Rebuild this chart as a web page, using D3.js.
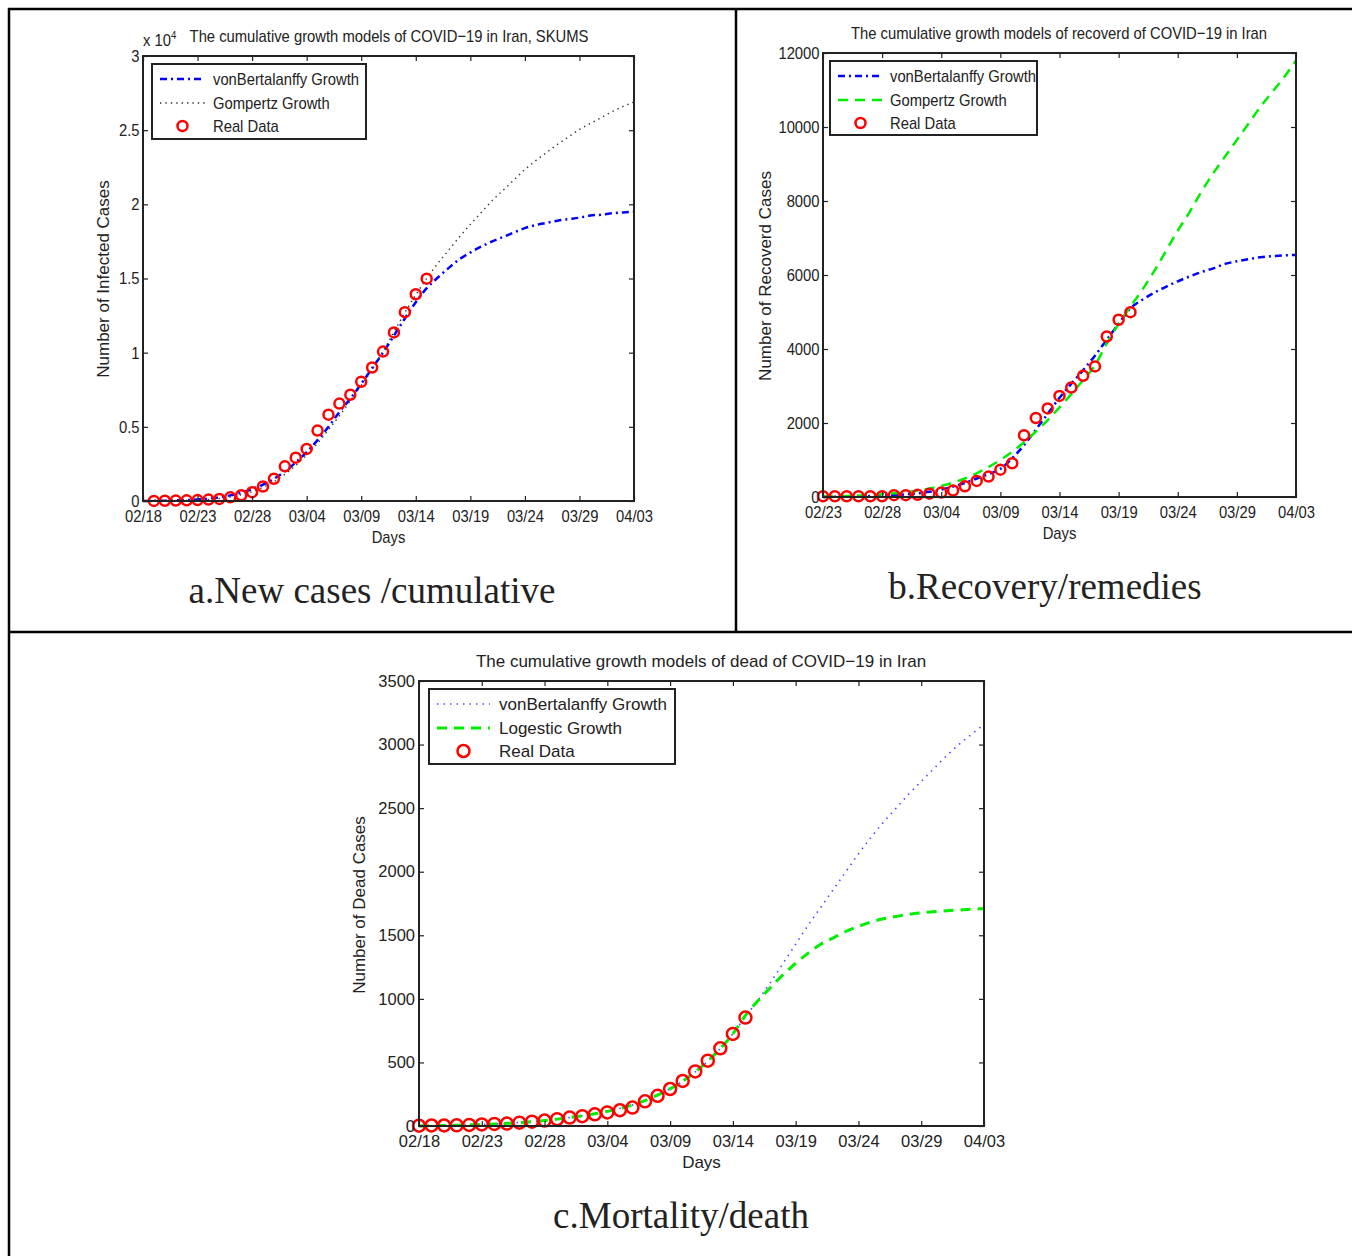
<!DOCTYPE html>
<html>
<head>
<meta charset="utf-8">
<script src="https://cdn.jsdelivr.net/npm/d3@7"></script>
<style>
  body { margin: 0; background: #fff; }
  text { fill: #222; }
</style>
</head>
<body>
<script>
/////////////
/// DATA  ///
/////////////

// panel a: infected cases, x = days since 02/18
var datesA = ["02/18", "02/23", "02/28", "03/04", "03/09", "03/14", "03/19", "03/24", "03/29", "04/03"];
var realA = [5, 18, 28, 43, 61, 95, 139, 245, 388, 593, 978, 1501, 2336, 2922, 3513, 4747,
             5823, 6566, 7161, 8042, 9000, 10075, 11364, 12729, 13938, 14991];   // days 1..26
var vonBertA = [0, 10, 20, 40, 60, 100, 160, 250, 380, 560, 800, 1100, 1500, 2000, 2600, 3300,
                4100, 5000, 6000, 6900, 7900, 8950, 10000, 11150, 12300, 13400, 14350, 15050,
                15700, 16300, 16750, 17150, 17500, 17800, 18100, 18400, 18600, 18750, 18900,
                19000, 19100, 19250, 19300, 19400, 19450, 19500];
var gompA = [0, 5, 10, 20, 35, 60, 100, 170, 270, 420, 630, 920, 1300, 1800, 2400, 3100, 3900,
             4800, 5750, 6750, 7800, 8850, 10100, 11400, 12700, 13900, 15000, 16000, 16900,
             17800, 18650, 19450, 20250, 20950, 21650, 22350, 22950, 23500, 24050, 24550,
             25050, 25450, 25850, 26250, 26600, 26900];
var yTicksA = [0, 5000, 10000, 15000, 20000, 25000, 30000];

// panel b: recovered cases, x = days since 02/23
var datesB = ["02/23", "02/28", "03/04", "03/09", "03/14", "03/19", "03/24", "03/29", "04/03"];
var realB = [20, 20, 20, 20, 20, 20, 50, 50, 60, 90, 120, 175, 291, 435, 552, 739, 913, 1669,
             2134, 2394, 2731, 2959, 3276, 3529, 4339, 4790, 4996];               // days 0..26
var vonBertB = [0, 5, 10, 15, 25, 35, 50, 70, 100, 140, 200, 280, 380, 500, 620, 760, 1050,
                1400, 1820, 2250, 2680, 3060, 3430, 3820, 4250, 4680, 5100, 5330, 5520, 5680,
                5830, 5960, 6080, 6180, 6300, 6370, 6430, 6480, 6510, 6530, 6540];
var gompB = [20, 25, 30, 40, 55, 75, 100, 130, 170, 230, 300, 390, 500, 640, 810, 1000, 1220,
             1480, 1770, 2080, 2420, 2780, 3160, 3560, 4150, 4680, 5150, 5600, 6100, 6650,
             7200, 7700, 8250, 8750, 9200, 9650, 10100, 10550, 10950, 11350, 11800];
var yTicksB = [0, 2000, 4000, 6000, 8000, 10000, 12000];

// panel c: dead cases, x = days since 02/18
var datesC = datesA;
var realC = [2, 4, 4, 5, 8, 12, 16, 19, 26, 34, 43, 54, 66, 77, 92, 107, 124, 145, 194, 237,
             291, 354, 429, 514, 611, 724, 853];                                    // days 0..26
var vonBertC = [0, 2, 4, 6, 9, 12, 16, 21, 27, 34, 43, 54, 66, 80, 96, 115, 138, 165, 200, 242,
                292, 352, 425, 510, 610, 725, 860, 990, 1130, 1280, 1430, 1580, 1720, 1860,
                2000, 2140, 2270, 2390, 2500, 2610, 2710, 2810, 2910, 3000, 3080, 3160];
var logisC = [0, 2, 4, 6, 9, 12, 16, 21, 27, 34, 43, 54, 66, 80, 96, 115, 138, 165, 200, 242,
              292, 352, 425, 510, 610, 725, 870, 985, 1090, 1190, 1280, 1360, 1430, 1480, 1530,
              1570, 1605, 1630, 1648, 1665, 1677, 1686, 1693, 1699, 1705, 1710];
var yTicksC = [0, 500, 1000, 1500, 2000, 2500, 3000, 3500];

/////////////////
/// SETUP     ///
/////////////////

var SANS = "'Liberation Sans', Arial, sans-serif";
var SERIF = "'Liberation Serif', 'Times New Roman', serif";

var svg = d3.select("body").append("svg")
    .attr("width", 1352)
    .attr("height", 1256);

// table borders
var grid = svg.append("g").attr("stroke", "#000").attr("stroke-width", 2.5);
grid.append("line").attr("x1", 8).attr("x2", 1352).attr("y1", 9).attr("y2", 9);
grid.append("line").attr("x1", 9).attr("x2", 9).attr("y1", 8).attr("y2", 1256);
grid.append("line").attr("x1", 736).attr("x2", 736).attr("y1", 8).attr("y2", 632);
grid.append("line").attr("x1", 8).attr("x2", 1352).attr("y1", 632).attr("y2", 632);

// panels a and b were squeezed sideways in the original figure -> squeeze factor sx
var panels = [
  {
    left: 143, right: 634, top: 56, bottom: 501, days: 45, yMax: 30000,
    dates: datesA, yTicks: yTicksA, yFormat: function(v) { return d3.format("~g")(v / 10000); },
    fontSize: 17, tickSize: 17, sx: 0.87, yLabelSize: 17, xPad: 9,
    title: "The cumulative growth models of COVID\u221219 in Iran, SKUMS", titleX: 389, titleY: 42,
    exponent: true,
    yLabel: "Number of Infected Cases", yLabelX: 109, yLabelY: 279,
    xLabelY: 543, caption: "a.New cases /cumulative", captionX: 372, captionY: 603,
    legend: {x: 152, y: 64, w: 214, h: 75, sx: 160, ex: 205, tx: 213, rows: [79, 103, 126]},
    series: [
      {name: "vonBertalanffy Growth", values: vonBertA, start: 0, color: "#0000ff", width: 2.5, dash: "7,4,2,4"},
      {name: "Gompertz Growth", values: gompA, start: 0, color: "#333", width: 1.4, dash: "1.4,4"}
    ],
    real: realA, realStart: 1, r: 5
  },
  {
    left: 823, right: 1296, top: 53, bottom: 497, days: 40, yMax: 12000,
    dates: datesB, yTicks: yTicksB, yFormat: function(v) { return v; },
    fontSize: 17, tickSize: 17, sx: 0.87, yLabelSize: 17, xPad: 9,
    title: "The cumulative growth models of recoverd of COVID\u221219 in Iran", titleX: 1059, titleY: 39,
    exponent: false,
    yLabel: "Number of Recoverd Cases", yLabelX: 771, yLabelY: 276,
    xLabelY: 539, caption: "b.Recovery/remedies", captionX: 1045, captionY: 599,
    legend: {x: 830, y: 61, w: 207, h: 74, sx: 838, ex: 883, tx: 890, rows: [76, 100, 123]},
    series: [
      {name: "vonBertalanffy Growth", values: vonBertB, start: 0, color: "#0000ff", width: 2.5, dash: "7,4,2,4"},
      {name: "Gompertz Growth", values: gompB, start: 0, color: "#00ee00", width: 2.5, dash: "10,7"}
    ],
    real: realB, realStart: 0, r: 5
  },
  {
    left: 419, right: 984, top: 681, bottom: 1126, days: 45, yMax: 3500,
    dates: datesC, yTicks: yTicksC, yFormat: function(v) { return v; },
    fontSize: 17, tickSize: 16.5, sx: 1, yLabelSize: 17, xPad: 9,
    title: "The cumulative growth models of dead of COVID\u221219 in Iran", titleX: 701, titleY: 667,
    exponent: false,
    yLabel: "Number of Dead Cases", yLabelX: 365, yLabelY: 905,
    xLabelY: 1168, caption: "c.Mortality/death", captionX: 681, captionY: 1228,
    legend: {x: 429, y: 689, w: 246, h: 75, sx: 437, ex: 490, tx: 499, rows: [704, 728, 751]},
    series: [
      {name: "vonBertalanffy Growth", values: vonBertC, start: 0, color: "#4a4aff", width: 1.6, dash: "1.5,5"},
      {name: "Logestic Growth", values: logisC, start: 0, color: "#00ee00", width: 3, dash: "10,7"}
    ],
    real: realC, realStart: 0, r: 6
  }
];

panels.forEach(drawPanel);

/////////////////////////
/// DRAW ONE PANEL    ///
/////////////////////////

// horizontal text, squeezed by p.sx around its anchor point
function label(g, p, x, y, str, anchor) {
  return g.append("text")
      .attr("transform", "translate(" + x + "," + y + ") scale(" + p.sx + ",1)")
      .attr("text-anchor", anchor || "start")
      .style("font-family", SANS).style("font-size", p.fontSize + "px")
      .text(str);
}

function drawPanel(p) {
  var g = svg.append("g");

  var x = d3.scaleLinear().domain([0, p.days]).range([p.left, p.right]);
  var y = d3.scaleLinear().domain([0, p.yMax]).range([p.bottom, p.top]);

  // model curves
  p.series.forEach(function(s) {
    var line = d3.line()
        .x(function(d, i) { return x(i + s.start); })
        .y(function(d) { return y(d); })
        .curve(d3.curveMonotoneX);
    g.append("path")
        .datum(s.values)
        .attr("fill", "none")
        .attr("stroke", s.color)
        .attr("stroke-width", s.width)
        .attr("stroke-dasharray", s.dash)
        .attr("d", line);
  });

  // real data
  g.selectAll(".pt")
      .data(p.real)
      .enter().append("circle")
      .attr("class", "pt")
      .attr("cx", function(d, i) { return x(i + p.realStart); })
      .attr("cy", function(d) { return y(d); })
      .attr("r", p.r)
      .attr("fill", "none")
      .attr("stroke", "#ff0000")
      .attr("stroke-width", 2.5);

  // axes, ticks inward on all four sides
  var xTickVals = p.dates.map(function(d, i) { return i * 5; });
  var xBottom = d3.axisBottom(x).tickValues(xTickVals)
      .tickFormat(function(d, i) { return p.dates[i]; })
      .tickSize(-5).tickSizeOuter(0).tickPadding(p.xPad);
  var xTop = d3.axisTop(x).tickValues(xTickVals).tickFormat("").tickSize(-5).tickSizeOuter(0);
  var yLeft = d3.axisLeft(y).tickValues(p.yTicks).tickFormat(p.yFormat)
      .tickSize(-5).tickSizeOuter(0).tickPadding(4);
  var yRight = d3.axisRight(y).tickValues(p.yTicks).tickFormat("").tickSize(-5).tickSizeOuter(0);

  [
    [xBottom, "translate(0," + p.bottom + ")"],
    [xTop, "translate(0," + p.top + ")"],
    [yLeft, "translate(" + p.left + ",0)"],
    [yRight, "translate(" + p.right + ",0)"]
  ].forEach(function(a) {
    var ax = g.append("g").attr("transform", a[1]).call(a[0]);
    ax.select(".domain").remove();
    ax.selectAll("line").attr("stroke", "#222").attr("stroke-width", 1.2);
    ax.selectAll("text")
        .attr("transform", "scale(" + p.sx + ",1)")
        .style("font-family", SANS)
        .style("font-size", p.tickSize + "px")
        .attr("fill", "#222");
  });

  g.append("rect")
      .attr("x", p.left).attr("y", p.top)
      .attr("width", p.right - p.left).attr("height", p.bottom - p.top)
      .attr("fill", "none")
      .attr("stroke", "#222")
      .attr("stroke-width", 2);

  // title
  label(g, p, p.titleX, p.titleY, p.title, "middle");

  if (p.exponent) {
    var ex = label(g, p, p.left, p.titleY + 4, "x 10");
    ex.append("tspan").attr("dy", -7).style("font-size", "11px").text("4");
  }

  // axis labels
  g.append("text")
      .attr("transform", "translate(" + p.yLabelX + "," + p.yLabelY + ") rotate(-90)")
      .attr("text-anchor", "middle")
      .style("font-family", SANS).style("font-size", p.yLabelSize + "px")
      .text(p.yLabel);

  label(g, p, (p.left + p.right) / 2, p.xLabelY, "Days", "middle");

  // legend
  var L = p.legend;
  var leg = g.append("g");
  leg.append("rect")
      .attr("x", L.x).attr("y", L.y).attr("width", L.w).attr("height", L.h)
      .attr("fill", "#fff").attr("stroke", "#222").attr("stroke-width", 2);

  p.series.forEach(function(s, i) {
    leg.append("line")
        .attr("x1", L.sx).attr("x2", L.ex)
        .attr("y1", L.rows[i]).attr("y2", L.rows[i])
        .attr("stroke", s.color).attr("stroke-width", s.width)
        .attr("stroke-dasharray", s.dash);
    label(leg, p, L.tx, L.rows[i] + 6, s.name);
  });
  leg.append("circle")
      .attr("cx", (L.sx + L.ex) / 2).attr("cy", L.rows[2])
      .attr("r", p.r)
      .attr("fill", "none").attr("stroke", "#ff0000").attr("stroke-width", 2.5);
  label(leg, p, L.tx, L.rows[2] + 6, "Real Data");

  // caption under the chart
  svg.append("text")
      .attr("x", p.captionX).attr("y", p.captionY)
      .attr("text-anchor", "middle")
      .style("font-family", SERIF).style("font-size", "37px")
      .attr("fill", "#000")
      .text(p.caption);
}
</script>
</body>
</html>
